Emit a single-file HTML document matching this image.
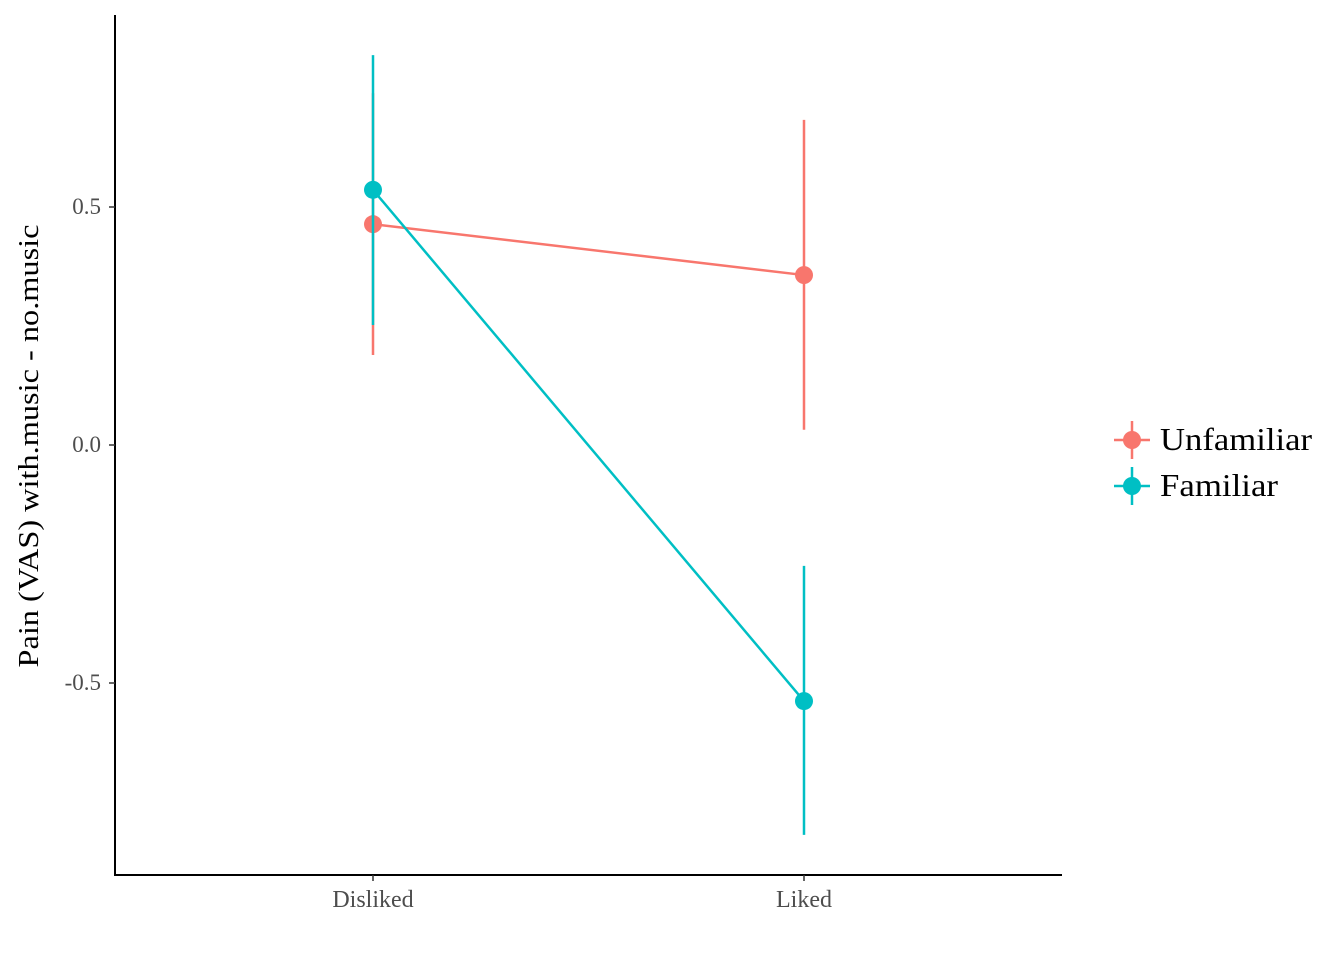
<!DOCTYPE html>
<html><head><meta charset="utf-8"><style>
body{margin:0;background:#fff}
svg{display:block;font-family:"Liberation Serif",serif}
</style></head><body>
<svg id="chart" width="1344" height="960" viewBox="0 0 1344 960"></svg>
<script>
const categories = ["Disliked","Liked"];
const seriesNames = ["Unfamiliar","Familiar"];
const seriesColors = ["#F8766D","#00BFC4"];
const unfamiliarMean = [0.464, 0.357];
const unfamiliarLow = [0.189, 0.032];
const unfamiliarHigh = [0.739, 0.683];
const familiarMean = [0.536, -0.538];
const familiarLow = [0.252, -0.819];
const familiarHigh = [0.819, -0.254];
const yTicks = [-0.5, 0.0, 0.5];
const yTickLabels = ["-0.5","0.0","0.5"];

const NS="http://www.w3.org/2000/svg";
const svg=document.getElementById('chart');
function y(v){return 445 - v*476;}
function x(i){return 373 + i*431;}
function mk(tag,attrs,parent){const e=document.createElementNS(NS,tag);for(const k in attrs)e.setAttribute(k,attrs[k]);(parent||svg).appendChild(e);return e;}

const yAxis=mk('line',{x1:115,y1:15,x2:115,y2:875,stroke:'#000','stroke-width':2});


const xAxis=mk('line',{x1:114,y1:875,x2:1062,y2:875,stroke:'#000','stroke-width':2});



yTicks.forEach((t,i)=>{
  const tk=mk('line',{x1:109,x2:115,y1:y(t),y2:y(t),stroke:'#333','stroke-width':1.5});
  
  
  const tl=mk('text',{x:101,y:y(t)+7,'text-anchor':'end','font-size':23,fill:'#4d4d4d'});
  tl.textContent=yTickLabels[i];
  
  
});
categories.forEach((c,i)=>{
  const tk=mk('line',{x1:x(i),x2:x(i),y1:875,y2:881,stroke:'#333','stroke-width':1.5});
  
  
  const tl=mk('text',{x:x(i),y:907,'text-anchor':'middle','font-size':24,fill:'#4d4d4d'});
  tl.textContent=c;
  
  
});
const yt=mk('text',{transform:'translate(38,446) rotate(-90)','text-anchor':'middle','font-size':29,fill:'#000',textLength:443,lengthAdjust:'spacingAndGlyphs'});
yt.textContent='Pain (VAS) with.music - no.music';



const series=[[unfamiliarMean,unfamiliarLow,unfamiliarHigh],[familiarMean,familiarLow,familiarHigh]];
series.forEach((s,si)=>{
  const col=seriesColors[si];
  const [m,lo,hi]=s;
  categories.forEach((c,i)=>{
    const eb=mk('line',{x1:x(i),x2:x(i),y1:y(lo[i]),y2:y(hi[i]),stroke:col,'stroke-width':2.5});
    
    
  });
  const pl=mk('polyline',{points:m.map((v,i)=>x(i)+','+y(v)).join(' '),fill:'none',stroke:col,'stroke-width':2.5});
  
  
  m.forEach((v,i)=>{
    const pt=mk('circle',{cx:x(i),cy:y(v),r:9,fill:col});
    
    
  });
});

const legendWidths=[152,118];
seriesNames.forEach((n,i)=>{
  const ly=440+i*46, col=seriesColors[i];
  const g=mk('g',{});
  
  
  mk('line',{x1:1114,x2:1150,y1:ly,y2:ly,stroke:col,'stroke-width':2.5},g);
  mk('line',{x1:1132,x2:1132,y1:ly-19,y2:ly+19,stroke:col,'stroke-width':2.5},g);
  mk('circle',{cx:1132,cy:ly,r:9,fill:col},g);
  const t=mk('text',{x:1160,y:ly+10,'font-size':32,fill:'#000',textLength:legendWidths[i],lengthAdjust:'spacingAndGlyphs'},g);
  t.textContent=n;
});
</script>
</body></html>
